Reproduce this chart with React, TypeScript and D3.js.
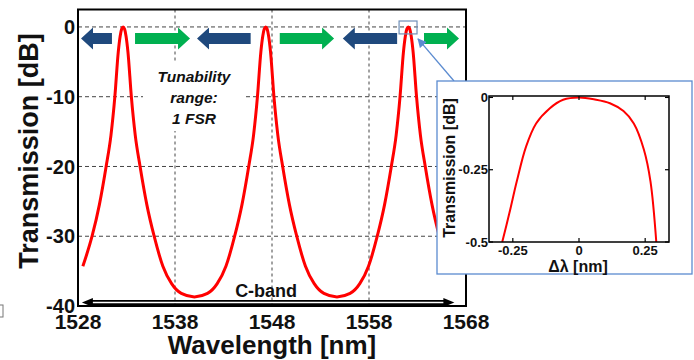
import React from 'react';
import * as d3 from 'd3';

// main spectrum
const wavelength = [
  1528.5, 1529.45, 1530.2, 1530.9, 1531.4, 1531.8, 1532.15, 1532.35, 1532.5, 1532.65,
  1532.8, 1532.95, 1533.15, 1533.5, 1533.9, 1534.4, 1535.1, 1535.85, 1536.75, 1537.65,
  1538.65, 1540.0, 1541.35, 1542.35, 1543.25, 1544.15, 1544.9, 1545.6, 1546.1, 1546.5,
  1546.85, 1547.05, 1547.2, 1547.35, 1547.5, 1547.65, 1547.85, 1548.2, 1548.6, 1549.1,
  1549.8, 1550.55, 1551.45, 1552.35, 1553.35, 1554.7, 1556.05, 1557.05, 1557.95, 1558.85,
  1559.6, 1560.3, 1560.8, 1561.2, 1561.55, 1561.75, 1561.9, 1562.05, 1562.2, 1562.35,
  1562.55, 1562.9, 1563.3, 1563.8, 1564.5, 1565.25, 1566.0,
];
const transmission = [
  -34.3, -30, -25.5, -20, -15.5, -10, -3.6, -1.3, -0.3, 0,
  -0.3, -1.3, -3.6, -10, -15.5, -20, -25.5, -30, -34.3, -36.8,
  -38.2, -38.7, -38.2, -36.8, -34.3, -30, -25.5, -20, -15.5, -10,
  -3.6, -1.3, -0.3, 0, -0.3, -1.3, -3.6, -10, -15.5, -20,
  -25.5, -30, -34.3, -36.8, -38.2, -38.7, -38.2, -36.8, -34.3, -30,
  -25.5, -20, -15.5, -10, -3.6, -1.3, -0.3, 0, -0.3, -1.3,
  -3.6, -10, -15.5, -20, -25.5, -30, -33.6,
];
const xTicks = [1528, 1538, 1548, 1558, 1568];
const yTicks = [0, -10, -20, -30, -40];
const gridX = [1538, 1548, 1558];
const gridY = [0, -10, -20, -30];

// tuning arrows (tail -> tip, nm)
const arrowFrom = [1531.5, 1533.88, 1545.8, 1548.8, 1560.9, 1563.67];
const arrowTo = [1528.31, 1539.55, 1540.27, 1554.4, 1555.3, 1567.28];

// zoomed peak (inset)
const insetDelta = [
  -0.29, -0.263, -0.235, -0.2, -0.162, -0.111, -0.06, 0,
  0.06, 0.117, 0.168, 0.207, 0.245, 0.27, 0.292,
];
const insetDb = [
  -0.5, -0.4, -0.29, -0.17, -0.09, -0.038, -0.008, 0,
  -0.007, -0.02, -0.047, -0.09, -0.18, -0.29, -0.5,
];
const insetXTicks = [-0.25, 0, 0.25];
const insetYTicks = [0, -0.25, -0.5];
const insetXLabels = ['-0.25', '0', '0.25'];
const insetYLabels = ['0', '-0.25', '-0.5'];

const FONT = "Arial, 'Liberation Sans', sans-serif";
const BLUE = '#1F497D';
const GREEN = '#00B050';
const FRAME_BLUE = '#5B8BD0';

export default function App() {
  const x = d3.scaleLinear().domain([1528, 1568]).range([78, 466]);
  const y = d3.scaleLinear().domain([-40, 2.5]).range([306, 9.5]);
  const [x0, x1] = x.range();
  const [y0, y1] = y.range();

  const line = d3
    .line<number>()
    .x((_, i) => x(wavelength[i]))
    .y((d) => y(d))
    .curve(d3.curveMonotoneX);

  const ix = d3.scaleLinear().domain([-0.34, 0.34]).range([489, 669]);
  const iy = d3.scaleLinear().domain([-0.5, 0.005]).range([242, 96]);
  const insetLine = d3
    .line<number>()
    .x((_, i) => ix(insetDelta[i]))
    .y((d) => iy(d))
    .curve(d3.curveCatmullRom.alpha(0.5));

  const arrowY = y(-1.65);
  const arrowPath = (from: number, to: number) => {
    const a = x(from);
    const b = x(to);
    const dir = Math.sign(b - a);
    const hl = 12;
    const bh = 5.5;
    const hh = 11;
    const base = b - dir * hl;
    return `M${a},${arrowY - bh}L${base},${arrowY - bh}L${base},${arrowY - hh}L${b},${arrowY}L${base},${arrowY + hh}L${base},${arrowY + bh}L${a},${arrowY + bh}Z`;
  };

  // C-band double arrow
  const cY = y(-39.5);
  const cL = x(1528.4);
  const cR = x(1566.8);

  // zoom marker around third peak
  const zx0 = x(1561.1);
  const zx1 = x(1562.95);
  const zy0 = y(0.85);
  const zy1 = y(-1.0);

  return (
    <svg
      width={694}
      height={360}
      style={{ position: 'absolute', left: 0, top: 0, background: '#fff' }}
      fontFamily={FONT}
    >
      <defs>
        <clipPath id="plot">
          <rect x={x0} y={y1} width={x1 - x0} height={y0 - y1} />
        </clipPath>
        <marker id="tip" viewBox="0 0 10 10" refX="9" refY="5" markerWidth="7" markerHeight="7" orient="auto">
          <path d="M0,0L10,5L0,10Z" fill={FRAME_BLUE} />
        </marker>
      </defs>

      {/* grid */}
      {gridY.map((v) => (
        <line key={'gy' + v} x1={x0} x2={x1} y1={y(v)} y2={y(v)} stroke="#444" strokeWidth={1} strokeDasharray="4,3" />
      ))}
      {gridX.map((v) => (
        <line key={'gx' + v} x1={x(v)} x2={x(v)} y1={y1} y2={y0} stroke="#444" strokeWidth={1} strokeDasharray="3,3" />
      ))}

      {/* text box */}
      <rect x={143} y={62} width={102} height={69} fill="#fff" />
      <g fontWeight="bold" fontStyle="italic" fontSize={15.5} textAnchor="middle" fill="#111">
        <text x={194} y={82}>Tunability</text>
        <text x={194} y={103}>range:</text>
        <text x={194} y={124}>1 FSR</text>
      </g>

      {/* curve */}
      <path
        d={line(transmission) || ''}
        fill="none"
        stroke="#FF0000"
        strokeWidth={3}
        clipPath="url(#plot)"
      />

      {/* tuning arrows */}
      {arrowFrom.map((f, i) => (
        <path key={'ar' + i} d={arrowPath(f, arrowTo[i])} fill={arrowTo[i] < f ? BLUE : GREEN} />
      ))}

      {/* C-band */}
      <g fill="#000" stroke="#000">
        <line x1={cL + 8} x2={cR - 8} y1={cY - 1.6} y2={cY - 1.6} strokeWidth={1.8} />
        <line x1={cL + 8} x2={cR - 8} y1={cY + 1.6} y2={cY + 1.6} strokeWidth={1.8} />
        <path d={`M${cL},${cY}L${cL + 11},${cY - 4.5}L${cL + 11},${cY + 4.5}Z`} stroke="none" />
        <path d={`M${cR},${cY}L${cR - 11},${cY - 4.5}L${cR - 11},${cY + 4.5}Z`} stroke="none" />
      </g>
      <text x={x(1544.2)} y={y(-38.7)} fontSize={18} fontWeight="bold" fill="#111">
        C-band
      </text>

      {/* frame */}
      <rect x={x0} y={y1} width={x1 - x0} height={y0 - y1} fill="none" stroke="#000" strokeWidth={2} />

      {/* axes labels */}
      {yTicks.map((v) => (
        <text key={'yt' + v} x={x0 - 3} y={y(v)} dy="0.36em" textAnchor="end" fontSize={20} fontWeight="bold" fill="#111">
          {v}
        </text>
      ))}
      {xTicks.map((v) => (
        <text key={'xt' + v} x={x(v)} y={y0 + 23} textAnchor="middle" fontSize={21} fontWeight="bold" fill="#111">
          {v}
        </text>
      ))}
      <text x={(x0 + x1) / 2} y={354} textAnchor="middle" fontSize={26} fontWeight="bold" fill="#111">
        Wavelength [nm]
      </text>
      <text
        transform={`translate(38,151) rotate(-90)`}
        textAnchor="middle"
        fontSize={27}
        fontWeight="bold"
        fill="#111"
      >
        Transmission [dB]
      </text>

      {/* stray box edge at left */}
      <rect x={-10} y={305} width={13} height={12} fill="none" stroke="#777" strokeWidth={1} />

      {/* zoom marker and connector */}
      <rect x={zx0} y={zy0} width={zx1 - zx0} height={zy1 - zy0} fill="none" stroke="#6F8FB8" strokeWidth={1.2} />
      <line x1={454} y1={81} x2={zx1 + 1} y2={zy1 + 5} stroke={FRAME_BLUE} strokeWidth={1.3} markerEnd="url(#tip)" />

      {/* inset */}
      <rect x={437} y={81} width={255} height={193} fill="#fff" stroke={FRAME_BLUE} strokeWidth={1.3} />
      <path d={insetLine(insetDb) || ''} fill="none" stroke="#FF0000" strokeWidth={2} />
      <rect
        x={ix.range()[0]}
        y={iy.range()[1]}
        width={ix.range()[1] - ix.range()[0]}
        height={iy.range()[0] - iy.range()[1]}
        fill="none"
        stroke="#000"
        strokeWidth={1.5}
      />
      {insetXTicks.map((v) => (
        <g key={'ixt' + v}>
          <line x1={ix(v)} x2={ix(v)} y1={iy.range()[0]} y2={iy.range()[0] - 4} stroke="#000" strokeWidth={1.2} />
          <line x1={ix(v)} x2={ix(v)} y1={iy.range()[1]} y2={iy.range()[1] + 4} stroke="#000" strokeWidth={1.2} />
        </g>
      ))}
      {insetYTicks.map((v) => (
        <g key={'iyt' + v}>
          <line x1={ix.range()[0]} x2={ix.range()[0] + 4} y1={iy(v)} y2={iy(v)} stroke="#000" strokeWidth={1.2} />
          <line x1={ix.range()[1]} x2={ix.range()[1] - 4} y1={iy(v)} y2={iy(v)} stroke="#000" strokeWidth={1.2} />
        </g>
      ))}
      {insetXTicks.map((v, i) => (
        <text key={'ixl' + v} x={ix(v)} y={255} textAnchor="middle" fontSize={13} fontWeight="bold" fill="#111">
          {insetXLabels[i]}
        </text>
      ))}
      {insetYTicks.map((v, i) => (
        <text key={'iyl' + v} x={ix.range()[0] - 1} y={iy(v)} dy="0.36em" textAnchor="end" fontSize={13} fontWeight="bold" fill="#111">
          {insetYLabels[i]}
        </text>
      ))}
      <text x={578} y={272} textAnchor="middle" fontSize={16} fontWeight="bold" fill="#111">
        Δλ [nm]
      </text>
      <text
        transform={`translate(455,168) rotate(-90)`}
        textAnchor="middle"
        fontSize={16}
        fontWeight="bold"
        fill="#111"
      >
        Transmission [dB]
      </text>
    </svg>
  );
}
